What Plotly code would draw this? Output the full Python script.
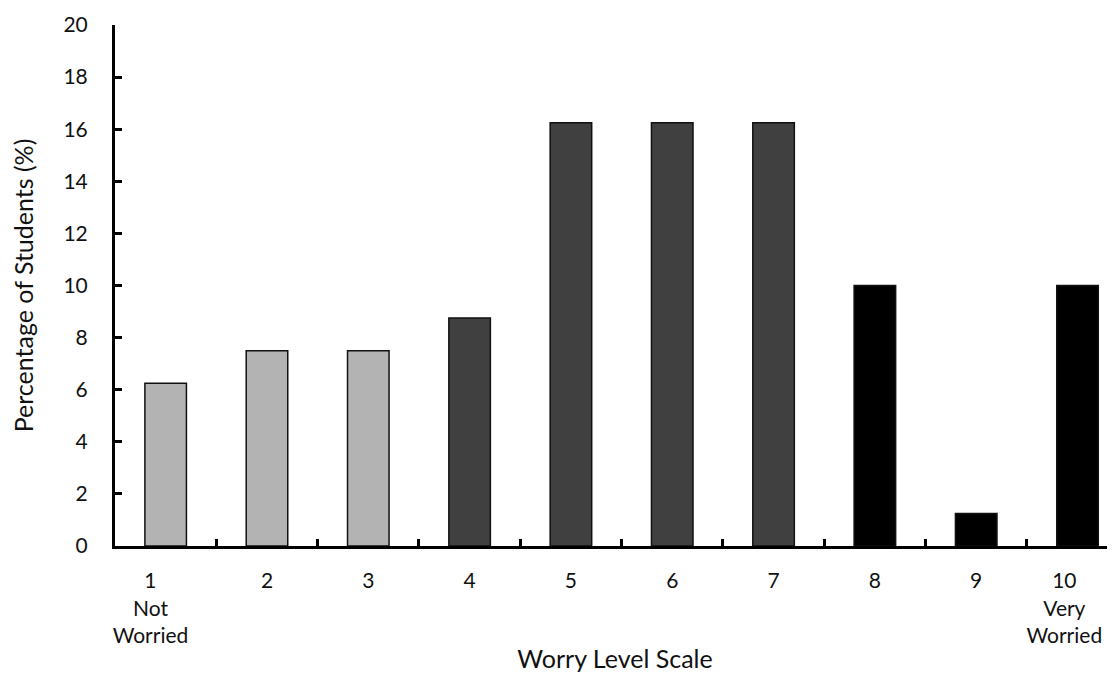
import plotly.graph_objects as go

levels = [1, 2, 3, 4, 5, 6, 7, 8, 9, 10]
percentages = [6.25, 7.5, 7.5, 8.75, 16.25, 16.25, 16.25, 10, 1.25, 10]
tick_labels = ["1<br>Not<br>Worried", "2", "3", "4", "5", "6", "7", "8", "9", "10<br>Very<br>Worried"]
# label anchor positions (edge labels nudged inward as in the reference)
label_positions = [0.85, 2, 3, 4, 5, 6, 7, 8, 9, 9.87]
bar_colors = ["#b3b3b3"] * 3 + ["#404040"] * 4 + ["#000000"] * 3

font_family = "Lato, Open Sans, sans-serif"

fig = go.Figure(go.Bar(
    x=levels, y=percentages, width=0.41,
    marker=dict(color=bar_colors, line=dict(color="#111111", width=1.5)),
))

fig.update_layout(
    width=1107, height=665,
    margin=dict(l=107, r=0, t=17, b=127),
    paper_bgcolor="white", plot_bgcolor="white",
    font=dict(family=font_family, size=21, color="#111111"),
    showlegend=False,
)
fig.update_xaxes(
    range=[0.5, 10.37], automargin=False,
    tickmode="array", tickvals=label_positions, ticktext=tick_labels,
    ticks="", showgrid=False, zeroline=False,
    showline=True, linecolor="black", linewidth=3,
    ticklabelstandoff=14,
    minor=dict(tickmode="array", tickvals=[1.5, 2.5, 3.5, 4.5, 5.5, 6.5, 7.5, 8.5, 9.5],
               ticks="inside", ticklen=7, tickwidth=3, tickcolor="black", showgrid=False),
    title=dict(text="Worry Level Scale", standoff=23),
)
fig.update_yaxes(
    range=[0, 20], tickmode="linear", tick0=0, dtick=2, automargin=False,
    ticks="inside", ticklen=7, tickwidth=3, tickcolor="black",
    showgrid=False, zeroline=False,
    showline=True, linecolor="black", linewidth=3,
    ticklabelstandoff=20,
    title=dict(text="Percentage of Students (%)", standoff=23),
)

fig.write_html("out.html")
